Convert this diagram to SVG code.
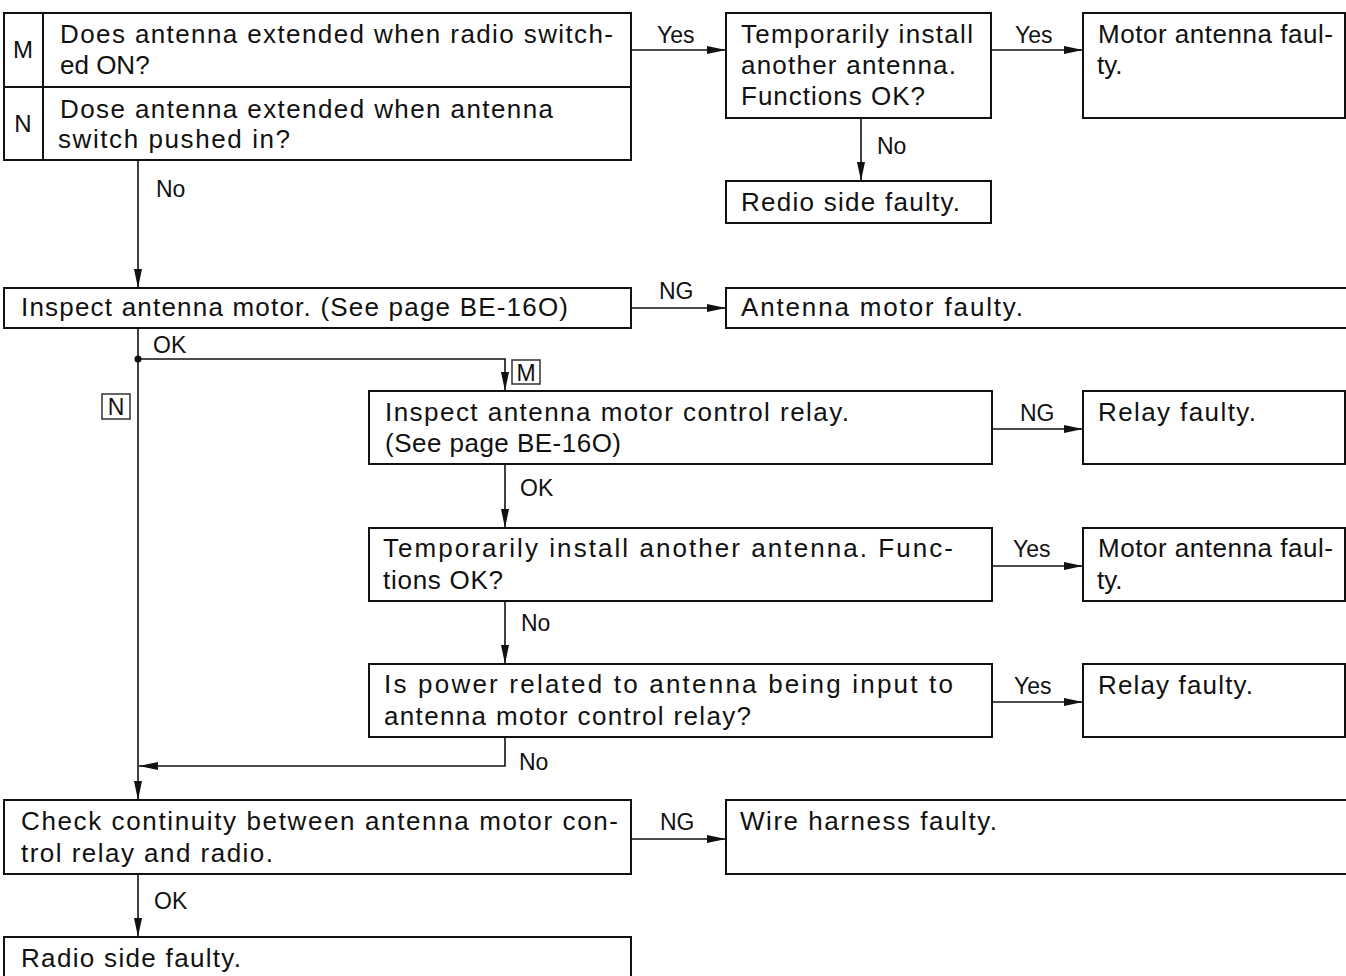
<svg xmlns="http://www.w3.org/2000/svg" width="1346" height="976" viewBox="0 0 1346 976">
<defs>
<marker id="ah" markerWidth="19" markerHeight="9" refX="19" refY="4.5" orient="auto" markerUnits="userSpaceOnUse"><path d="M0,0.5 L19,4.5 L0,8.5 z" fill="#111"/></marker>
<style>
.box{fill:#fff;stroke:#111;stroke-width:2}
.tag{fill:#fff;stroke:#333;stroke-width:1.5}
.c{fill:none;stroke:#111;stroke-width:1.6}
.a{marker-end:url(#ah)}
text{font-family:"Liberation Sans",Arial,sans-serif;fill:#111}
.t{font-size:26px}
.r{font-size:26px}
.l{font-size:23px}
</style>
</defs>
<rect width="1346" height="976" fill="#fff"/>

<g id="connectors">
<line class="c a" x1="631" y1="50" x2="726" y2="50"/>
<line class="c a" x1="991" y1="50" x2="1083" y2="50"/>
<line class="c a" x1="861" y1="118" x2="861" y2="181"/>
<line class="c a" x1="138" y1="160" x2="138" y2="288"/>
<line class="c a" x1="631" y1="308" x2="726" y2="308"/>
<line class="c a" x1="138" y1="328" x2="138" y2="800"/>
<circle cx="138" cy="359" r="3.5" fill="#111"/>
<polyline class="c a" points="138,359 505,359 505,391"/>
<line class="c a" x1="992" y1="429" x2="1083" y2="429"/>
<line class="c a" x1="505" y1="464" x2="505" y2="528"/>
<line class="c a" x1="992" y1="566" x2="1083" y2="566"/>
<line class="c a" x1="505" y1="601" x2="505" y2="664"/>
<line class="c a" x1="992" y1="702" x2="1083" y2="702"/>
<polyline class="c a" points="505,737 505,766 139,766"/>
<line class="c a" x1="631" y1="839" x2="726" y2="839"/>
<line class="c a" x1="138" y1="874" x2="138" y2="937"/>
<text class="l" x="657" y="43">Yes</text>
<text class="l" x="1015" y="43">Yes</text>
<text class="l" x="877" y="154">No</text>
<text class="l" x="156" y="197">No</text>
<text class="l" x="659" y="299">NG</text>
<text class="l" x="153" y="353">OK</text>
<text class="l" x="1020" y="421">NG</text>
<text class="l" x="520" y="496">OK</text>
<text class="l" x="1013" y="557">Yes</text>
<text class="l" x="521" y="631">No</text>
<text class="l" x="1014" y="694">Yes</text>
<text class="l" x="519" y="770">No</text>
<text class="l" x="660" y="830">NG</text>
<text class="l" x="154" y="909">OK</text>
<g id="tagM"><rect class="tag" x="512" y="360" width="28" height="24"/><text class="l" x="526" y="381" text-anchor="middle">M</text></g>
<g id="tagN"><rect class="tag" x="102" y="394" width="28" height="25"/><text class="l" x="116" y="415" text-anchor="middle">N</text></g>
</g>

<g id="n1">
<rect class="box" x="4" y="13" width="627" height="147"/>
<line class="c" x1="4" y1="87" x2="631" y2="87" style="stroke-width:2"/>
<line class="c" x1="43" y1="13" x2="43" y2="160" style="stroke-width:2"/>
<text class="l" x="23" y="58" text-anchor="middle" style="font-size:24px">M</text>
<text class="l" x="23" y="132" text-anchor="middle" style="font-size:24px">N</text>
<text class="t" x="60" y="43" textLength="553" lengthAdjust="spacing">Does antenna extended when radio switch-</text>
<text class="t" x="60" y="74">ed ON?</text>
<text class="t" x="60" y="118" textLength="493" lengthAdjust="spacing">Dose antenna extended when antenna</text>
<text class="t" x="58" y="148" textLength="232" lengthAdjust="spacing">switch pushed in?</text>
</g>

<g id="n2">
<rect class="box" x="726" y="13" width="265" height="105"/>
<text class="r" x="741" y="43" textLength="232" lengthAdjust="spacing">Temporarily install</text>
<text class="r" x="741" y="74" textLength="215" lengthAdjust="spacing">another antenna.</text>
<text class="r" x="741" y="105" textLength="184" lengthAdjust="spacing">Functions OK?</text>
</g>

<g id="n3">
<rect class="box" x="1083" y="13" width="262" height="105"/>
<text class="r" x="1098" y="43" textLength="235" lengthAdjust="spacing">Motor antenna faul-</text>
<text class="r" x="1097" y="74">ty.</text>
</g>

<g id="n4">
<rect class="box" x="726" y="181" width="265" height="42"/>
<text class="r" x="741" y="211" textLength="219" lengthAdjust="spacing">Redio side faulty.</text>
</g>

<g id="n5">
<rect class="box" x="4" y="288" width="627" height="40"/>
<text class="t" x="21" y="316" textLength="547" lengthAdjust="spacing">Inspect antenna motor. (See page BE-16O)</text>
</g>

<g id="n6">
<rect class="box" x="726" y="288" width="630" height="40"/>
<text class="r" x="741" y="316" textLength="282" lengthAdjust="spacing">Antenna motor faulty.</text>
</g>

<g id="n7">
<rect class="box" x="369" y="391" width="623" height="73"/>
<text class="t" x="385" y="421" textLength="464" lengthAdjust="spacing">Inspect antenna motor control relay.</text>
<text class="t" x="385" y="452" textLength="236" lengthAdjust="spacing">(See page BE-16O)</text>
</g>

<g id="n8">
<rect class="box" x="1083" y="391" width="262" height="73"/>
<text class="r" x="1098" y="421" textLength="158" lengthAdjust="spacing">Relay faulty.</text>
</g>

<g id="n9">
<rect class="box" x="369" y="528" width="623" height="73"/>
<text class="t" x="383" y="557" textLength="570" lengthAdjust="spacing">Temporarily install another antenna. Func-</text>
<text class="t" x="383" y="589" textLength="120" lengthAdjust="spacing">tions OK?</text>
</g>

<g id="n10">
<rect class="box" x="1083" y="528" width="262" height="73"/>
<text class="r" x="1098" y="557" textLength="235" lengthAdjust="spacing">Motor antenna faul-</text>
<text class="r" x="1097" y="589">ty.</text>
</g>

<g id="n11">
<rect class="box" x="369" y="664" width="623" height="73"/>
<text class="t" x="384" y="693" textLength="569" lengthAdjust="spacing">Is power related to antenna being input to</text>
<text class="t" x="384" y="725" textLength="367" lengthAdjust="spacing">antenna motor control relay?</text>
</g>

<g id="n12">
<rect class="box" x="1083" y="664" width="262" height="73"/>
<text class="r" x="1098" y="694" textLength="155" lengthAdjust="spacing">Relay faulty.</text>
</g>

<g id="n13">
<rect class="box" x="4" y="800" width="627" height="74"/>
<text class="t" x="21" y="830" textLength="597" lengthAdjust="spacing">Check continuity between antenna motor con-</text>
<text class="t" x="21" y="862" textLength="252" lengthAdjust="spacing">trol relay and radio.</text>
</g>

<g id="n14">
<rect class="box" x="726" y="800" width="630" height="74"/>
<text class="r" x="740" y="830" textLength="257" lengthAdjust="spacing">Wire harness faulty.</text>
</g>

<g id="n15">
<rect class="box" x="4" y="937" width="627" height="50"/>
<text class="t" x="21" y="967" textLength="220" lengthAdjust="spacing">Radio side faulty.</text>
</g>
</svg>
